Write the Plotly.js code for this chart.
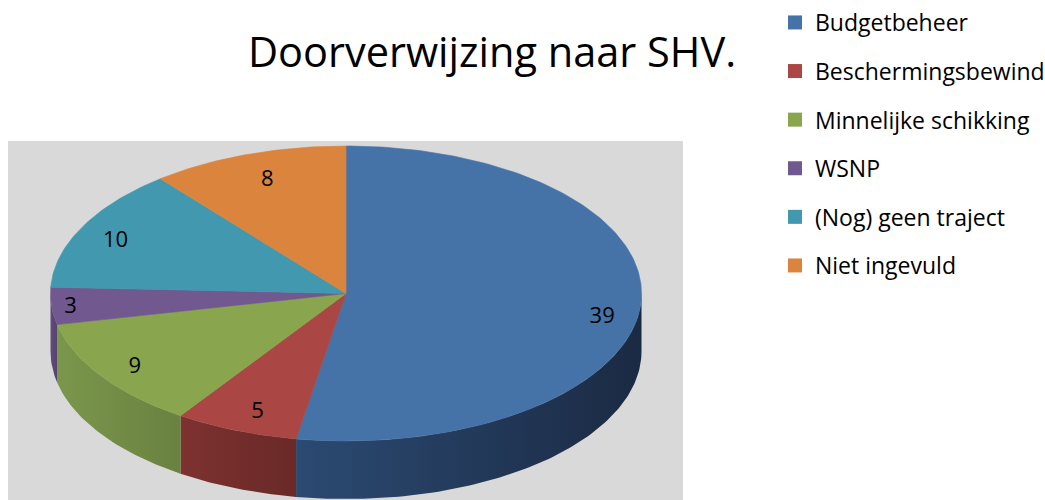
<!DOCTYPE html>
<html>
<head>
<meta charset="utf-8">
<script src="https://cdn.plot.ly/plotly-3.0.1.min.js"></script>
<style>html,body{margin:0;padding:0;background:#fff;}#chart{width:1045px;height:500px;}</style>
</head>
<body>
<div id="chart"></div>
<script>
// ---- data ----
const categories = ['Budgetbeheer', 'Beschermingsbewind', 'Minnelijke schikking', 'WSNP', '(Nog) geen traject', 'Niet ingevuld'];
const values = [39, 5, 9, 3, 10, 8];

// ---- styles ----
const topColors = ['#4572A7', '#AA4643', '#89A54E', '#71588F', '#4198AF', '#DB843D'];
const sideLight = ['#2B4A72', '#7D3230', '#7A974C', '#604B7C', '#327A8C', '#B06A30'];
const sideDark  = ['#1B2A43', '#692927', '#6A8140', '#55436F', '#2A6878', '#9A5C28'];
const FONT = 'Open Sans, Noto Sans, sans-serif';

// pie geometry (pixel space of the axes)
const CX = 346, CY = 293.5, RX = 295.5, RY = 147.5, DEPTH = 58;

const total = values.reduce((a, b) => a + b, 0);
const rad = d => d * Math.PI / 180;
function px(a) { return CX + RX * Math.sin(rad(a)); }
function py(a, dy) { return CY - RY * Math.cos(rad(a)) + dy; }
function arc(a1, a2, dy, xs, ys) {
  const n = Math.max(2, Math.ceil(Math.abs(a2 - a1)) + 1);
  for (let i = 0; i < n; i++) {
    const a = a1 + (a2 - a1) * i / (n - 1);
    xs.push(px(a)); ys.push(py(a, dy));
  }
}

const traces = [];
let cum = 0;
const slices = values.map(v => { const a1 = cum / total * 360; cum += v; return [a1, cum / total * 360]; });

// side walls (front half only)
slices.forEach(([a1, a2], i) => {
  const lo = Math.max(a1, 90), hi = Math.min(a2, 270);
  if (hi <= lo) return;
  const xs = [], ys = [];
  arc(lo, hi, 0, xs, ys);
  arc(hi, lo, DEPTH, xs, ys);
  xs.push(xs[0]); ys.push(ys[0]);
  traces.push({
    type: 'scatter', x: xs, y: ys, mode: 'lines', fill: 'toself',
    line: {width: 0, color: sideDark[i]},
    fillgradient: {type: 'horizontal', colorscale: [[0, sideLight[i]], [1, sideDark[i]]]},
    hoverinfo: 'skip', showlegend: false
  });
});

// top faces
slices.forEach(([a1, a2], i) => {
  const xs = [CX], ys = [CY];
  arc(a1, a2, 0, xs, ys);
  xs.push(CX); ys.push(CY);
  traces.push({
    type: 'scatter', x: xs, y: ys, mode: 'lines', fill: 'toself',
    line: {width: 0.6, color: topColors[i]}, fillcolor: topColors[i],
    hoverinfo: 'skip', showlegend: false
  });
});

// value labels (placed at the slice mid-angle on an inner ellipse)
const lx = [], ly = [];
slices.forEach(([a1, a2]) => {
  const m = (a1 + a2) / 2, s = Math.sin(rad(m)), c = Math.cos(rad(m));
  const kx = 0.87 - 0.09 * Math.pow(c, 4) + 0.07 * Math.pow(Math.max(0, -s), 20);
  const ky = 0.835;
  lx.push(CX + kx * RX * s);
  ly.push(CY - ky * RY * c + 3 + 10 * Math.max(0, s) + 5 * Math.max(0, -c) * Math.abs(s));
});
traces.push({
  type: 'scatter', x: lx, y: ly, mode: 'text', text: values.map(String),
  textposition: 'middle center', textfont: {family: FONT, size: 22, color: '#000'},
  hoverinfo: 'skip', showlegend: false
});

// legend entries
categories.forEach((c, i) => {
  traces.push({
    type: 'scatter', x: [null], y: [null], mode: 'markers', name: c,
    legendgroup: 'g' + i,
    marker: {symbol: 'square', size: 14, color: topColors[i]}, hoverinfo: 'skip'
  });
});

const layout = {
  width: 1045, height: 500,
  margin: {l: 0, r: 0, t: 0, b: 0, autoexpand: false},
  paper_bgcolor: '#fff', plot_bgcolor: 'rgba(0,0,0,0)',
  title: {text: 'Doorverwijzing naar SHV.', font: {family: FONT, size: 41.5, color: '#000'},
          x: 492 / 1045, xanchor: 'center', xref: 'container', y: 1 - 52 / 500, yanchor: 'middle', yref: 'container'},
  xaxis: {range: [0, 1045], visible: false, fixedrange: true},
  yaxis: {range: [500, 0], visible: false, fixedrange: true},
  showlegend: true,
  legend: {x: 775 / 1045, xanchor: 'left', y: 1 - 1 / 500, yanchor: 'top', font: {family: FONT, size: 23, color: '#000'},
           tracegroupgap: 15.7, bgcolor: 'rgba(0,0,0,0)'},
  shapes: [{type: 'rect', xref: 'x', yref: 'y', x0: 8, x1: 683, y0: 141, y1: 500,
            fillcolor: '#D9D9D9', line: {width: 0}, layer: 'below'}],
  hovermode: false
};

Plotly.newPlot('chart', traces, layout, {displayModeBar: false, staticPlot: true});
</script>
</body>
</html>
